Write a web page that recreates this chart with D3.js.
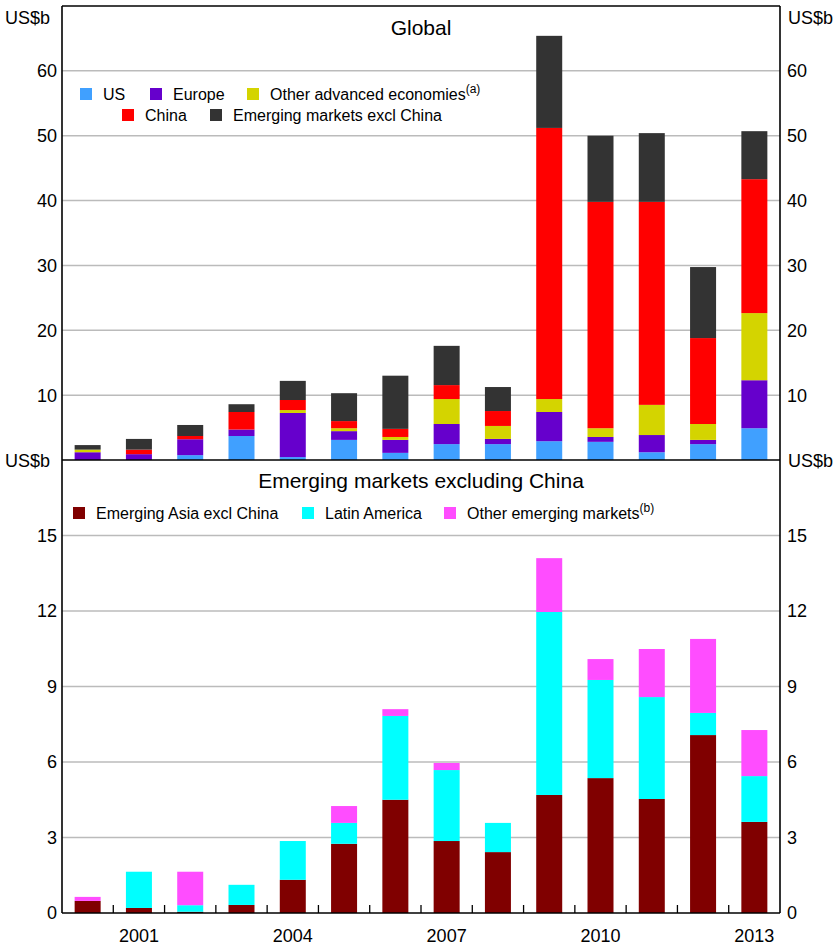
<!DOCTYPE html>
<html><head><meta charset="utf-8">
<script src="https://cdn.jsdelivr.net/npm/d3@7"></script>
<style>body{margin:0;background:#fff}text{font-family:"Liberation Sans",Arial,sans-serif;fill:#000}</style>
</head><body>
<svg id="c" width="835" height="948"></svg>
<script>
const years = [2000,2001,2002,2003,2004,2005,2006,2007,2008,2009,2010,2011,2012,2013];
const yearLabels = [2001,2004,2007,2010,2013];
// Global (US$b)
const us        = [0,0,0.75,3.7,0.45,3.1,1.1,2.45,2.45,2.9,2.8,1.2,2.45,4.9];
const europe    = [1.2,0.9,2.45,1.0,6.8,1.35,2.0,3.1,0.8,4.5,0.75,2.65,0.65,7.4];
const otherAdv  = [0.4,0,0,0,0.45,0.45,0.45,3.85,2.0,2.0,1.35,4.65,2.45,10.35];
const china     = [0,0.7,0.5,2.7,1.55,1.1,1.25,2.15,2.3,41.8,34.9,31.3,13.25,20.65];
const emExChina = [0.7,1.65,1.7,1.2,2.95,4.3,8.2,6.05,3.7,14.2,10.2,10.6,10.95,7.4];
// Emerging markets excluding China (US$b)
const asiaExChina = [0.48,0.2,0.05,0.32,1.32,2.75,4.5,2.86,2.42,4.69,5.36,4.53,7.07,3.62];
const latAm       = [0,1.44,0.26,0.8,1.54,0.83,3.33,2.82,1.16,7.27,3.9,4.05,0.88,1.82];
const otherEm     = [0.16,0,1.33,0,0,0.67,0.27,0.28,0,2.14,0.83,1.91,2.94,1.83];
const topTicks = [10,20,30,40,50,60];
const botTicks = [0,3,6,9,12,15];

const topSeries = [
  {key:"US", values:us, color:"#40a0ff"},
  {key:"Europe", values:europe, color:"#6600cc"},
  {key:"Other advanced economies", values:otherAdv, color:"#d4d400", sup:"(a)"},
  {key:"China", values:china, color:"#ff0000"},
  {key:"Emerging markets excl China", values:emExChina, color:"#333333"}
];
const botSeries = [
  {key:"Emerging Asia excl China", values:asiaExChina, color:"#800000"},
  {key:"Latin America", values:latAm, color:"#00ffff"},
  {key:"Other emerging markets", values:otherEm, color:"#ff4dff", sup:"(b)"}
];

const svg = d3.select("#c");
const L = 62, R = 780, T = 6, MID = 460, B = 913;
const x = d3.scaleBand().domain(years).range([L,R]).paddingInner(0.493).paddingOuter(0.2465);
const yTop = d3.scaleLinear().domain([0,70]).range([MID,T]);
const yBot = d3.scaleLinear().domain([0,18]).range([B,MID]);

function panel(series, y, ticks){
  const g = svg.append("g");
  g.selectAll("line.grid").data(ticks.filter(d=>d>0)).join("line")
    .attr("x1",L).attr("x2",R).attr("y1",d=>y(d)).attr("y2",d=>y(d))
    .attr("stroke","#bbbbbb").attr("stroke-width",1.5);
  const rows = years.map((yr,i)=>{const o={year:yr}; series.forEach(s=>o[s.key]=s.values[i]); return o;});
  const stack = d3.stack().keys(series.map(s=>s.key))(rows);
  stack.forEach((layer,li)=>{
    g.append("g").attr("fill",series[li].color).selectAll("rect").data(layer).join("rect")
      .attr("x",d=>x(d.data.year)).attr("width",x.bandwidth())
      .attr("y",d=>y(d[1])).attr("height",d=>y(d[0])-y(d[1]));
  });
  g.selectAll("text.l").data(ticks).join("text")
    .attr("x",57).attr("y",d=>y(d)).attr("dy","0.36em").attr("text-anchor","end")
    .attr("font-size",18).text(d=>d);
  g.selectAll("text.r").data(ticks).join("text")
    .attr("x",787).attr("y",d=>y(d)).attr("dy","0.36em").attr("text-anchor","start")
    .attr("font-size",18).text(d=>d);
}
panel(topSeries, yTop, topTicks);
panel(botSeries, yBot, botTicks);

// frame
const fr = svg.append("g").attr("stroke","#000").attr("stroke-width",1.6);
fr.append("line").attr("x1",L).attr("x2",L).attr("y1",T).attr("y2",B);
fr.append("line").attr("x1",R).attr("x2",R).attr("y1",T).attr("y2",B);
fr.append("line").attr("x1",L).attr("x2",R).attr("y1",T).attr("y2",T);
fr.append("line").attr("x1",L).attr("x2",R).attr("y1",MID).attr("y2",MID);
fr.append("line").attr("x1",L).attr("x2",R).attr("y1",B).attr("y2",B);

// x ticks at band boundaries
const step = x.step();
svg.append("g").attr("stroke","#000").attr("stroke-width",1.3)
  .selectAll("line").data(years.slice(0,-1)).join("line")
  .attr("x1",d=>x(d)+x.bandwidth()+(step-x.bandwidth())/2)
  .attr("x2",d=>x(d)+x.bandwidth()+(step-x.bandwidth())/2)
  .attr("y1",B).attr("y2",B-8);
svg.append("g").selectAll("text").data(yearLabels).join("text")
  .attr("x",d=>x(d)+x.bandwidth()/2).attr("y",942).attr("text-anchor","middle")
  .attr("font-size",18).text(d=>d);

// unit labels
[[5,"start"],[833,"end"]].forEach(([px,anc])=>{
  svg.append("text").attr("x",px).attr("y",24).attr("text-anchor",anc).attr("font-size",18).text("US$b");
  svg.append("text").attr("x",px).attr("y",467).attr("text-anchor",anc).attr("font-size",18).text("US$b");
});

// titles
svg.append("text").attr("x",421).attr("y",35).attr("text-anchor","middle").attr("font-size",21).text("Global");
svg.append("text").attr("x",421).attr("y",488).attr("text-anchor","middle").attr("font-size",21).text("Emerging markets excluding China");

// legends
function legendItem(s, sx, sy){
  svg.append("rect").attr("x",sx).attr("y",sy-6).attr("width",12).attr("height",12).attr("fill",s.color);
  const t = svg.append("text").attr("x",sx+23).attr("y",sy+6).attr("font-size",16);
  t.append("tspan").text(s.key);
  if(s.sup) t.append("tspan").attr("dy",-7).attr("font-size",12).text(s.sup);
}
legendItem(topSeries[0], 80, 94);
legendItem(topSeries[1], 150, 94);
legendItem(topSeries[2], 247, 94);
legendItem(topSeries[3], 122, 115);
legendItem(topSeries[4], 210, 115);
legendItem(botSeries[0], 73, 513);
legendItem(botSeries[1], 302, 513);
legendItem(botSeries[2], 444, 513);
</script>
</body></html>
